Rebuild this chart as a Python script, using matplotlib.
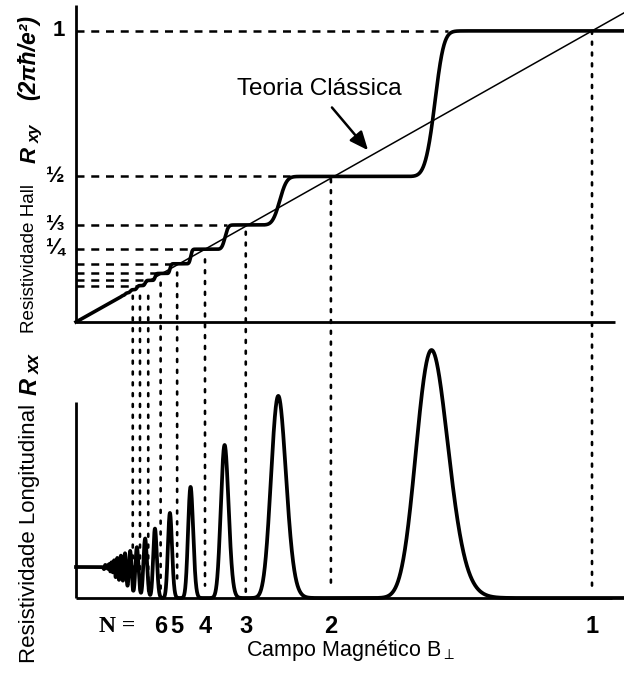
import math
import numpy as np
import matplotlib
matplotlib.use('Agg')
import matplotlib.pyplot as plt
from matplotlib.patches import ConnectionPatch

# ---------------- data ----------------
# Hall plateaus R_xy = 1/nu (units 2*pi*hbar/e^2) and where each plateau begins
plateau_nu = [1, 2, 3, 4, 5, 6, 7, 8]
plateau_start_B = [0.720, 0.415, 0.293, 0.227, 0.182, 0.163, 0.140, 0.118]
ytick_levels = [1.0, 0.5, 1 / 3, 0.25]
ytick_labels = ['1', '½', '⅓', '¼']

# dotted guide lines at B = 1/nu (top end on R_xy scale, bottom end on R_xx scale)
vline_B = [1.0, 0.494, 0.329, 0.250, 0.196, 0.164, 0.140, 0.124, 0.110]
vline_top = [1.0, 0.49, 0.31, 0.215, 0.17, 0.135, 0.09, 0.09, 0.09]
vline_bottom = [0.05, 0.05, 0.015, 0.05, 0.05, 0.02, 0.02, 0.02, 0.02]
xtick_B = [1.0, 0.494, 0.329, 0.250, 0.196, 0.164]
xtick_labels = ['1', '2', '3', '4', '5', '6']

# Landau-level transitions: field at centre, Hall-step width (filling units),
# R_xx peak height (tallest = 1) and width (filling units)
trans_B = [0.689, 0.392, 0.288, 0.222, 0.182, 0.153, 0.134, 0.118, 0.105,
           0.095, 0.087, 0.080, 0.074, 0.069, 0.0645, 0.0606, 0.0571]
hall_width = [0.03, 0.07, 0.06, 0.05, 0.06, 0.08, 0.11, 0.15, 0.19,
              0.23, 0.27, 0.30, 0.33, 0.36, 0.40, 0.45, 0.50]
peak_height = [1.0, 0.815, 0.617, 0.448, 0.343, 0.280, 0.240, 0.205, 0.190,
               0.180, 0.170, 0.160, 0.148, 0.137, 0.124, 0.111, 0.100]
peak_width = [0.065, 0.094, 0.090, 0.100, 0.120, 0.150, 0.190, 0.220, 0.240,
              0.260, 0.280, 0.300, 0.330, 0.360, 0.400, 0.450, 0.500]
rxx_zero_field = 0.125      # R_xx level at low field
tail_start_nu = 18.0        # filling beyond which levels are fully smeared
tail_width = 0.55

B_max = 1.062

# ---------------- curves ----------------
erf = np.vectorize(math.erf)


def Phi(x):
    return 0.5 * (1.0 + erf(x / math.sqrt(2.0)))


def phi(x):
    return np.exp(-0.5 * x * x) / math.sqrt(2 * math.pi)


B = np.linspace(0.0015, B_max, 30000)
f = 1.0 / B
nu_eff = np.ones_like(B)
rxx = np.zeros_like(B)
for tb, hw, ph, pw in zip(trans_B, hall_width, peak_height, peak_width):
    fc = 1.0 / tb
    nu_eff += Phi((f - fc) / hw)
    rxx += ph * np.exp(-0.5 * ((f - fc) / pw) ** 2)
u = f - tail_start_nu
nu_eff += u * Phi(u / tail_width) + tail_width * phi(u / tail_width)
rxx += rxx_zero_field * Phi(u / tail_width)
rxy = 1.0 / nu_eff
B = np.concatenate([[0.0], B])
rxy = np.concatenate([[0.0], rxy])
rxx = np.concatenate([[rxx_zero_field], rxx])

# ---------------- figure ----------------
W, H = 624, 679
fig = plt.figure(figsize=(W / 100, H / 100), dpi=100)
fig.patch.set_facecolor('white')


def add_ax(left, top, right, bottom):
    return fig.add_axes([left / W, 1 - bottom / H, (right - left) / W, (bottom - top) / H])


ax1 = add_ax(76, 5, 624, 322)
ax2 = add_ax(76, 322, 624, 598)
for ax in (ax1, ax2):
    ax.set_xlim(0, B_max)
    ax.axis('off')
ax1.set_ylim(0, 1.089)
ax2.set_ylim(0, 1.113)

SANS = ['Liberation Sans', 'DejaVu Sans']
k = 'black'

# axes lines
ax1.plot([0, 0], [0, 1.089], color=k, lw=2.0, clip_on=False, solid_capstyle='butt')
ax1.plot([0, 1.045], [0, 0], color=k, lw=2.0, clip_on=False, solid_capstyle='butt')
ax2.plot([0, 0], [0, 0.79], color=k, lw=2.0, clip_on=False, solid_capstyle='butt')
ax2.plot([0, 1.039], [0, 0], color=k, lw=2.0, clip_on=False, solid_capstyle='butt')

# horizontal dashed guides
for nu, bs in zip(plateau_nu, plateau_start_B):
    ax1.plot([0, bs], [1.0 / nu, 1.0 / nu], color=k, lw=1.8,
             linestyle=(0, (3.2, 2.7)), clip_on=False)

# vertical dotted guides spanning both panels
for b, t, bt in zip(vline_B, vline_top, vline_bottom):
    cp = ConnectionPatch(xyA=(b, t), coordsA=ax1.transData,
                         xyB=(b, bt), coordsB=ax2.transData,
                         color=k, lw=1.9, linestyle=(0, (1.1, 3.0)))
    fig.add_artist(cp)

# classical line and quantum Hall curve
ax1.plot([0, B_max], [0, B_max], color=k, lw=1.1, clip_on=False)
ax1.plot(B, rxy, color=k, lw=2.6, clip_on=False, solid_joinstyle='round')

# longitudinal resistivity
ax2.plot(B, rxx, color=k, lw=2.7, clip_on=False, solid_joinstyle='round')

# annotation
ax1.text(0.312, 0.80, 'Teoria Clássica', family=SANS, fontsize=17.6,
         ha='left', va='center')
ax1.annotate('', xy=(0.566, 0.590), xytext=(0.496, 0.737),
             arrowprops=dict(arrowstyle='-|>,head_length=0.7,head_width=0.3',
                             color=k, lw=1.8, mutation_scale=16,
                             shrinkA=0, shrinkB=0))

# y tick labels (top)
for lvl, lab in zip(ytick_levels, ytick_labels):
    ax1.text(-0.022, lvl, lab, ha='right', va='center', fontsize=16,
             fontweight='bold', family=SANS)

# x tick labels (bottom)
for b, lab in zip(xtick_B, xtick_labels):
    ax2.text(b, -0.113, lab, ha='center', va='center', fontsize=17,
             fontweight='bold', family=SANS)
ax2.text(0.080, -0.113, 'N =', ha='center', va='center', fontsize=17,
         fontweight='bold', family=['Liberation Serif', 'DejaVu Serif'])
ax2.text(0.533, -0.21, 'Campo Magnético B$_{\\perp}$', ha='center', va='center',
         fontsize=15.5, family=SANS)


def ftext(x, y, s, **kw):
    return fig.text(x / W, 1 - y / H, s, rotation=90, rotation_mode='anchor', **kw)


# y labels
ftext(30, 333, 'Resistividade Hall', ha='left', va='center', fontsize=13.6, family=SANS)
ftext(30, 163, 'R', ha='left', va='center', fontsize=16, family=SANS,
      fontweight='bold', fontstyle='italic')
ftext(35, 143, 'xy', ha='left', va='center', fontsize=12, family=SANS,
      fontweight='bold', fontstyle='italic')
ftext(29, 100, '(2πħ/e²)', ha='left', va='center', fontsize=16.5, family=SANS,
      fontweight='bold', fontstyle='italic')

ftext(30, 663, 'Resistividade Longitudinal', ha='left', va='center', fontsize=16.0,
      family=SANS)
ftext(30, 395, 'R', ha='left', va='center', fontsize=17, family=SANS,
      fontweight='bold', fontstyle='italic')
ftext(35, 374, 'xx', ha='left', va='center', fontsize=13, family=SANS,
      fontweight='bold', fontstyle='italic')

fig.savefig('out.png', dpi=100, facecolor='white')
